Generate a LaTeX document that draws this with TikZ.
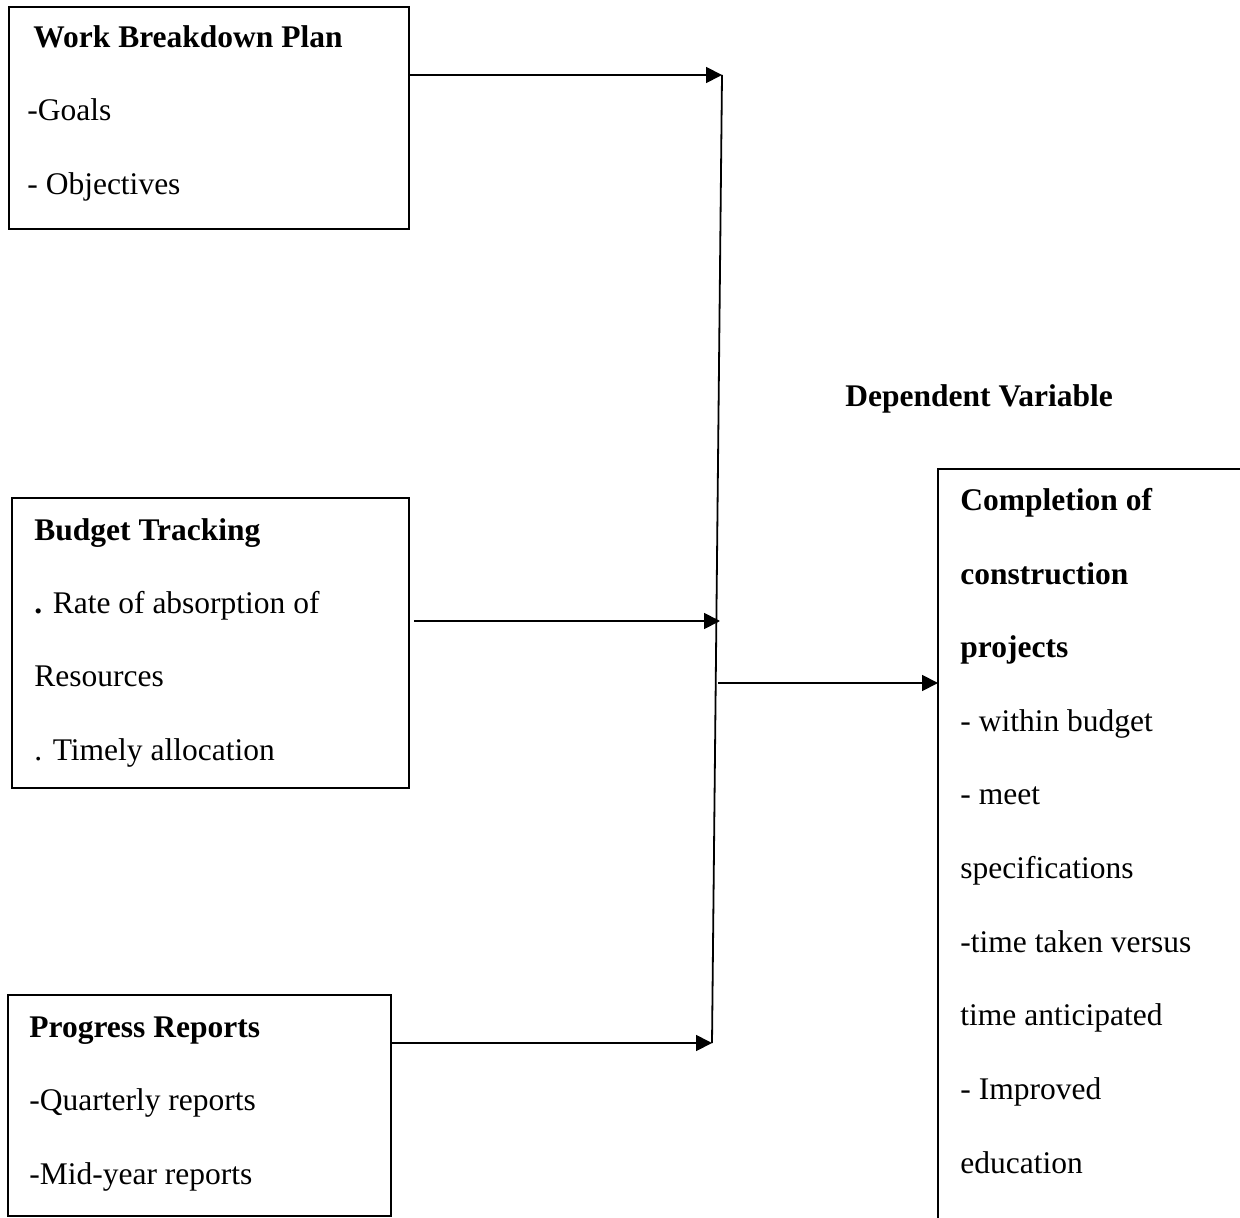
\documentclass[tikz,border=0pt]{standalone}
\usepackage{fontspec}
\setmainfont{Liberation Serif}
\usetikzlibrary{arrows.meta}
\begin{document}
\begin{tikzpicture}[x=0.5pt,y=-0.5pt,
  boxstyle/.style={draw, line width=1pt, inner sep=0pt},
  txt/.style={anchor=base west, inner sep=0pt, font=\fontsize{15.75}{18}\selectfont},
  btxt/.style={txt, font=\fontsize{15.75}{18}\selectfont\bfseries},
  conn/.style={line width=0.9pt, -{Triangle[length=8pt,width=8pt]}},
  plain/.style={line width=0.9pt}]
\useasboundingbox (0,0) rectangle (1240,1218);
% boxes
\node[boxstyle, minimum width=200pt, minimum height=111pt] (b1) at (209,118) {};
\node[boxstyle, minimum width=198.5pt, minimum height=145pt] (b2) at (210.5,643) {};
\node[boxstyle, minimum width=191.5pt, minimum height=110.5pt] (b3) at (199.5,1105.5) {};
% open right box
\coordinate (rtop) at (1240,469);
\coordinate (rcorner) at (938,469);
\coordinate (rbottom) at (938,1218);
\draw[line width=1pt] (rtop) -- (rcorner) -- (rbottom);
% box 1 text
\node[btxt] (t11) at (33,48) {Work Breakdown Plan};
\node[txt] (t12) at (27,121) {-Goals};
\node[txt] (t13) at (27,195) {- Objectives};
% box 2 text
\node[btxt] (t21) at (34,540) {Budget Tracking};
\node[txt] (t22) at (34,613) {\textbf{.} Rate of absorption of};
\node[txt] (t23) at (34,686) {Resources};
\node[txt] (t24) at (34,760) {. Timely allocation};
% box 3 text
\node[btxt] (t31) at (29,1037) {Progress Reports};
\node[txt] (t32) at (29,1110) {-Quarterly reports};
\node[txt] (t33) at (29,1184) {-Mid-year reports};
% heading
\node[btxt] (dv) at (845,407) {Dependent Variable};
% right box text
\node[btxt] (r1) at (960,510) {Completion of};
\node[btxt] (r2) at (960,584) {construction};
\node[btxt] (r3) at (960,657) {projects};
\node[txt] (r4) at (960,731) {- within budget};
\node[txt] (r5) at (960,804) {- meet};
\node[txt] (r6) at (960,878) {specifications};
\node[txt] (r7) at (960,952) {-time taken versus};
\node[txt] (r8) at (960,1025) {time anticipated};
\node[txt] (r9) at (960,1099) {- Improved};
\node[txt] (r10) at (960,1173) {education};
% vertical collector line
\coordinate (vtop) at (722,75);
\coordinate (vmid) at (720,621);
\coordinate (vjoin) at (718,683);
\coordinate (vbot) at (712,1043);
\draw[plain] (vtop) -- (vbot);
% arrows
\draw[conn] (b1.east |- vtop) -- (vtop);
\draw[conn] ([xshift=2pt]b2.east |- vmid) -- (vmid);
\draw[conn] (b3.east |- vbot) -- (vbot);
\draw[conn] (vjoin) -- (rcorner |- vjoin);
\end{tikzpicture}
\end{document}
